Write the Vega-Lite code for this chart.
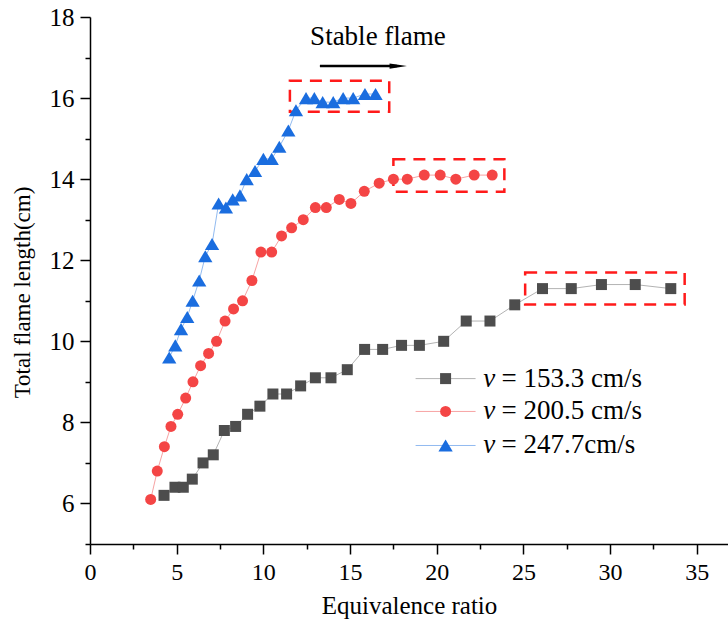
{
  "$schema": "https://vega.github.io/schema/vega-lite/v6.json",
  "width": 638,
  "height": 527,
  "autosize": {"type": "none"},
  "padding": {"left": 90, "top": 17, "right": 0, "bottom": 79},
  "background": "white",
  "config": {
    "view": {"stroke": null},
    "font": "Liberation Serif",
    "axis": {"labelFont": "Liberation Serif", "titleFont": "Liberation Serif", "labelColor": "black", "titleColor": "black", "titleFontWeight": "normal", "domainColor": "black", "tickColor": "black", "domainWidth": 1.5, "tickWidth": 1.5, "grid": false}
  },
  "datasets": {
    "pts": [
      {"s": "a", "x": 4.27, "y": 6.2}, {"s": "a", "x": 4.9, "y": 6.4}, {"s": "a", "x": 5.38, "y": 6.4}, {"s": "a", "x": 5.9, "y": 6.6}, {"s": "a", "x": 6.52, "y": 7.0}, {"s": "a", "x": 7.11, "y": 7.2}, {"s": "a", "x": 7.75, "y": 7.8}, {"s": "a", "x": 8.4, "y": 7.9}, {"s": "a", "x": 9.09, "y": 8.2}, {"s": "a", "x": 9.8, "y": 8.4}, {"s": "a", "x": 10.55, "y": 8.7}, {"s": "a", "x": 11.34, "y": 8.7}, {"s": "a", "x": 12.15, "y": 8.9}, {"s": "a", "x": 13.0, "y": 9.1}, {"s": "a", "x": 13.9, "y": 9.1}, {"s": "a", "x": 14.84, "y": 9.3}, {"s": "a", "x": 15.84, "y": 9.8}, {"s": "a", "x": 16.88, "y": 9.8}, {"s": "a", "x": 17.97, "y": 9.9}, {"s": "a", "x": 19.0, "y": 9.9}, {"s": "a", "x": 20.4, "y": 10.0}, {"s": "a", "x": 21.7, "y": 10.5}, {"s": "a", "x": 23.07, "y": 10.5}, {"s": "a", "x": 24.5, "y": 10.9}, {"s": "a", "x": 26.1, "y": 11.3}, {"s": "a", "x": 27.76, "y": 11.3}, {"s": "a", "x": 29.5, "y": 11.4}, {"s": "a", "x": 31.45, "y": 11.4}, {"s": "a", "x": 33.5, "y": 11.3},
      {"s": "b", "x": 3.5, "y": 6.1}, {"s": "b", "x": 3.88, "y": 6.8}, {"s": "b", "x": 4.29, "y": 7.4}, {"s": "b", "x": 4.67, "y": 7.9}, {"s": "b", "x": 5.06, "y": 8.2}, {"s": "b", "x": 5.52, "y": 8.6}, {"s": "b", "x": 5.94, "y": 9.0}, {"s": "b", "x": 6.38, "y": 9.4}, {"s": "b", "x": 6.84, "y": 9.7}, {"s": "b", "x": 7.3, "y": 10.0}, {"s": "b", "x": 7.79, "y": 10.5}, {"s": "b", "x": 8.28, "y": 10.8}, {"s": "b", "x": 8.8, "y": 11.0}, {"s": "b", "x": 9.34, "y": 11.5}, {"s": "b", "x": 9.86, "y": 12.2}, {"s": "b", "x": 10.48, "y": 12.2}, {"s": "b", "x": 11.05, "y": 12.6}, {"s": "b", "x": 11.63, "y": 12.8}, {"s": "b", "x": 12.3, "y": 13.0}, {"s": "b", "x": 13.0, "y": 13.3}, {"s": "b", "x": 13.63, "y": 13.3}, {"s": "b", "x": 14.38, "y": 13.5}, {"s": "b", "x": 15.05, "y": 13.4}, {"s": "b", "x": 15.82, "y": 13.7}, {"s": "b", "x": 16.68, "y": 13.9}, {"s": "b", "x": 17.5, "y": 14.0}, {"s": "b", "x": 18.3, "y": 14.0}, {"s": "b", "x": 19.28, "y": 14.1}, {"s": "b", "x": 20.2, "y": 14.1}, {"s": "b", "x": 21.1, "y": 14.0}, {"s": "b", "x": 22.16, "y": 14.1}, {"s": "b", "x": 23.2, "y": 14.1},
      {"s": "c", "x": 4.57, "y": 9.6}, {"s": "c", "x": 4.92, "y": 9.9}, {"s": "c", "x": 5.25, "y": 10.3}, {"s": "c", "x": 5.61, "y": 10.6}, {"s": "c", "x": 5.92, "y": 11.0}, {"s": "c", "x": 6.3, "y": 11.5}, {"s": "c", "x": 6.65, "y": 12.1}, {"s": "c", "x": 7.04, "y": 12.4}, {"s": "c", "x": 7.42, "y": 13.4}, {"s": "c", "x": 7.84, "y": 13.3}, {"s": "c", "x": 8.23, "y": 13.5}, {"s": "c", "x": 8.65, "y": 13.6}, {"s": "c", "x": 9.04, "y": 14.0}, {"s": "c", "x": 9.52, "y": 14.2}, {"s": "c", "x": 10.0, "y": 14.5}, {"s": "c", "x": 10.48, "y": 14.5}, {"s": "c", "x": 10.92, "y": 14.8}, {"s": "c", "x": 11.44, "y": 15.2}, {"s": "c", "x": 11.88, "y": 15.7}, {"s": "c", "x": 12.46, "y": 16.0}, {"s": "c", "x": 12.94, "y": 16.0}, {"s": "c", "x": 13.42, "y": 15.9}, {"s": "c", "x": 14.03, "y": 15.9}, {"s": "c", "x": 14.6, "y": 16.0}, {"s": "c", "x": 15.18, "y": 16.0}, {"s": "c", "x": 15.86, "y": 16.1}, {"s": "c", "x": 16.47, "y": 16.1}
    ],
    "boxes": [
      {"x": 25.1, "x2": 34.3, "y": 10.91, "y2": 11.7},
      {"x": 17.5, "x2": 23.9, "y": 13.69, "y2": 14.49},
      {"x": 11.53, "x2": 17.26, "y": 15.66, "y2": 16.43}
    ],
    "legend": [
      {"s": "a", "x1": 18.78, "x2": 22.24, "xm": 20.51, "xv": 22.68, "xt": 23.74, "y": 9.08, "label": "= 153.3 cm/s"},
      {"s": "b", "x1": 18.78, "x2": 22.24, "xm": 20.51, "xv": 22.68, "xt": 23.74, "y": 8.27, "label": "= 200.5 cm/s"},
      {"s": "c", "x1": 18.78, "x2": 22.24, "xm": 20.51, "xv": 22.68, "xt": 23.74, "y": 7.43, "label": "= 247.7cm/s"}
    ],
    "note": [
      {"x1": 13.26, "x2": 17.7, "xh": 17.78, "ya": 16.79, "xt": 16.61, "yt": 17.31, "text": "Stable flame"}
    ]
  },
  "layer": [
    {
      "data": {"name": "boxes"},
      "mark": {"type": "rect", "fillOpacity": 0, "stroke": "#ff1a1a", "strokeWidth": 2.5, "strokeDash": [12, 8]},
      "encoding": {
        "x": {"field": "x", "type": "quantitative", "scale": {"domain": [0, 36.8], "nice": false, "zero": false},
          "axis": {"values": [0, 2.5, 5, 7.5, 10, 12.5, 15, 17.5, 20, 22.5, 25, 27.5, 30, 32.5, 35],
            "labelExpr": "datum.value % 5 === 0 ? datum.label : ''",
            "tickSize": {"condition": {"test": "datum.value % 5 === 0", "value": 10}, "value": 5},
            "labelFont": "Liberation Serif", "labelFontSize": 24, "labelPadding": 6, "title": "Equivalence ratio", "titleFontSize": 25, "titlePadding": 9, "labelFlush": false, "labelOverlap": false}},
        "x2": {"field": "x2"},
        "y": {"field": "y", "type": "quantitative", "scale": {"domain": [5, 18], "nice": false, "zero": false},
          "axis": {"values": [5, 6, 7, 8, 9, 10, 11, 12, 13, 14, 15, 16, 17, 18],
            "labelExpr": "datum.value % 2 === 0 ? datum.label : ''",
            "tickSize": {"condition": {"test": "datum.value % 2 === 0", "value": 10}, "value": 5},
            "labelFont": "Liberation Serif", "labelFontSize": 25, "labelPadding": 6, "title": "Total flame length(cm)", "titleFontSize": 23, "titlePadding": 15, "titleY": 275, "labelFlush": false, "labelOverlap": false}},
        "y2": {"field": "y2"}
      }
    },
    {
      "data": {"name": "pts"},
      "mark": {"type": "line", "strokeWidth": 1},
      "encoding": {
        "x": {"field": "x", "type": "quantitative"},
        "y": {"field": "y", "type": "quantitative"},
        "stroke": {"field": "s", "type": "nominal", "scale": {"domain": ["a", "b", "c"], "range": ["#b3b3b3", "#f7a3a3", "#92bbf0"]}, "legend": null}
      }
    },
    {
      "data": {"name": "pts"},
      "mark": {"type": "point", "filled": true, "opacity": 1, "strokeWidth": 0, "size": 121},
      "encoding": {
        "x": {"field": "x", "type": "quantitative"},
        "y": {"field": "y", "type": "quantitative"},
        "fill": {"field": "s", "type": "nominal", "scale": {"domain": ["a", "b", "c"], "range": ["#4d4d4d", "#f44545", "#1a6ddf"]}, "legend": null},
        "shape": {"field": "s", "type": "nominal", "scale": {"domain": ["a", "b", "c"], "range": ["square", "circle", "M0,-1.1L1.3,1.1L-1.3,1.1Z"]}, "legend": null}
      }
    },
    {
      "data": {"name": "legend"},
      "mark": {"type": "rule", "strokeWidth": 1},
      "encoding": {
        "x": {"field": "x1", "type": "quantitative"},
        "x2": {"field": "x2"},
        "y": {"field": "y", "type": "quantitative"},
        "stroke": {"field": "s", "type": "nominal", "legend": null}
      }
    },
    {
      "data": {"name": "legend"},
      "mark": {"type": "point", "filled": true, "opacity": 1, "strokeWidth": 0, "size": 121},
      "encoding": {
        "x": {"field": "xm", "type": "quantitative"},
        "y": {"field": "y", "type": "quantitative"},
        "fill": {"field": "s", "type": "nominal", "legend": null},
        "shape": {"field": "s", "type": "nominal", "legend": null}
      }
    },
    {
      "data": {"name": "legend"},
      "mark": {"type": "text", "align": "left", "baseline": "middle", "fontSize": 27, "fontStyle": "italic", "font": "Liberation Serif", "color": "black"},
      "encoding": {
        "x": {"field": "xv", "type": "quantitative"},
        "y": {"field": "y", "type": "quantitative"},
        "text": {"value": "v"}
      }
    },
    {
      "data": {"name": "legend"},
      "mark": {"type": "text", "align": "left", "baseline": "middle", "fontSize": 27, "font": "Liberation Serif", "color": "black"},
      "encoding": {
        "x": {"field": "xt", "type": "quantitative"},
        "y": {"field": "y", "type": "quantitative"},
        "text": {"field": "label"}
      }
    },
    {
      "data": {"name": "note"},
      "mark": {"type": "rule", "strokeWidth": 2.5, "color": "black"},
      "encoding": {
        "x": {"field": "x1", "type": "quantitative"},
        "x2": {"field": "x2"},
        "y": {"field": "ya", "type": "quantitative"}
      }
    },
    {
      "data": {"name": "note"},
      "mark": {"type": "point", "filled": true, "opacity": 1, "color": "black", "strokeWidth": 0, "shape": "M-1,-0.3L1,0L-1,0.3Z", "size": 300},
      "encoding": {
        "x": {"field": "xh", "type": "quantitative"},
        "y": {"field": "ya", "type": "quantitative"}
      }
    },
    {
      "data": {"name": "note"},
      "mark": {"type": "text", "align": "center", "baseline": "alphabetic", "fontSize": 27, "font": "Liberation Serif", "color": "black"},
      "encoding": {
        "x": {"field": "xt", "type": "quantitative"},
        "y": {"field": "yt", "type": "quantitative"},
        "text": {"field": "text"}
      }
    }
  ]
}
